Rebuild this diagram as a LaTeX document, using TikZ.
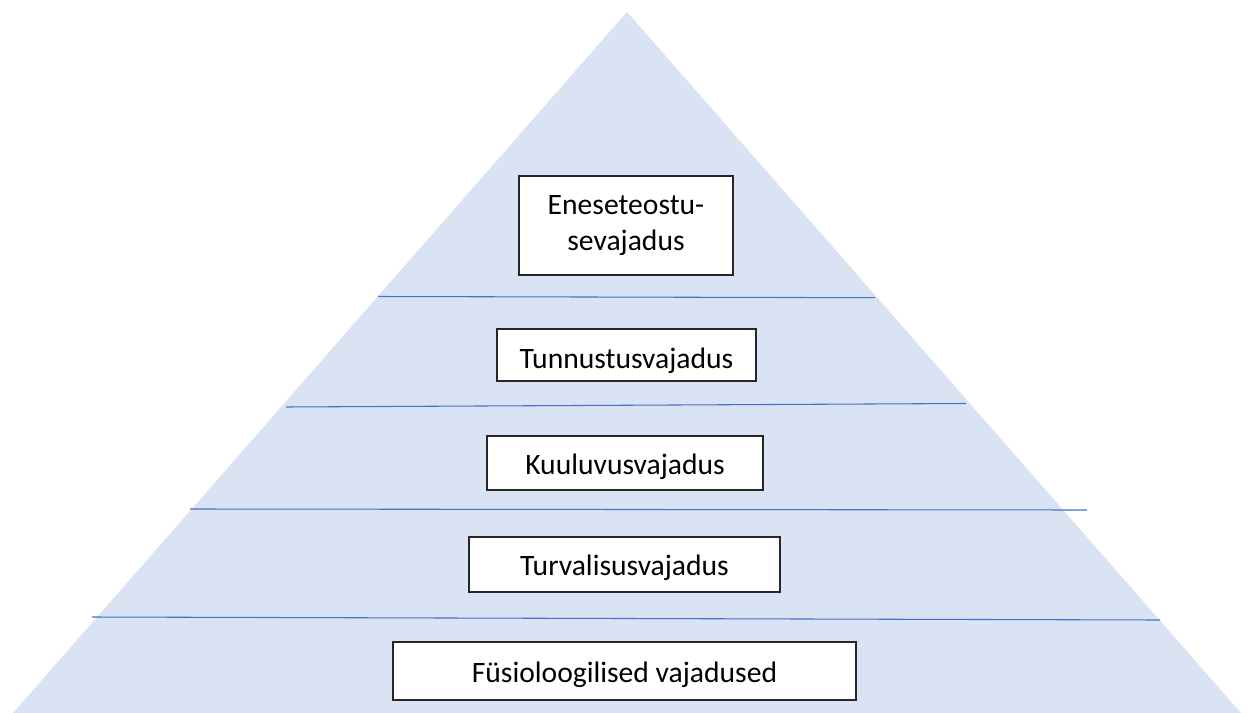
\documentclass[tikz,border=0pt]{standalone}
\usepackage{fontspec}
\setmainfont{Carlito}
\definecolor{pyrfill}{HTML}{DAE3F3}
\definecolor{sepline}{HTML}{4472C4}
\definecolor{boxedge}{HTML}{262626}
\begin{document}
\begin{tikzpicture}[x=0.75pt,y=-0.75pt,
  levelbox/.style={draw=boxedge,line width=1pt,fill=white,inner sep=0pt,
    align=center,font=\fontsize{22.2}{27.5}\selectfont},
  oneline/.style={text height=17.2pt,text depth=0pt},
  sep/.style={draw=sepline,line width=0.8pt}]
\useasboundingbox (0,0) rectangle (1252,713);
\fill[white] (0,0) rectangle (1252,713);
\fill[pyrfill] (627,12) -- (1241,713) -- (13,713) -- cycle;
\draw[sep] (378,296.5) -- (875,297.7);
\draw[sep] (286,407) -- (966,403.5);
\draw[sep] (190,509) -- (1087,510);
\draw[sep] (92,617) -- (1160,620);
\node[levelbox,minimum width=214*0.75pt,minimum height=99*0.75pt] (b1) at (626,225.5) {Eneseteostu-\\sevajadus};
\node[levelbox,text height=20pt,text depth=0pt,minimum width=259*0.75pt,minimum height=52*0.75pt] (b2) at (626.5,355) {Tunnustusvajadus};
\node[levelbox,oneline,minimum width=276*0.75pt,minimum height=54*0.75pt] (b3) at (625,463) {Kuuluvusvajadus};
\node[levelbox,oneline,minimum width=311*0.75pt,minimum height=55*0.75pt] (b4) at (624.5,564.5) {Turvalisusvajadus};
\node[levelbox,oneline,minimum width=463*0.75pt,minimum height=58*0.75pt] (b5) at (624.5,671) {Füsioloogilised vajadused};
\end{tikzpicture}
\end{document}
